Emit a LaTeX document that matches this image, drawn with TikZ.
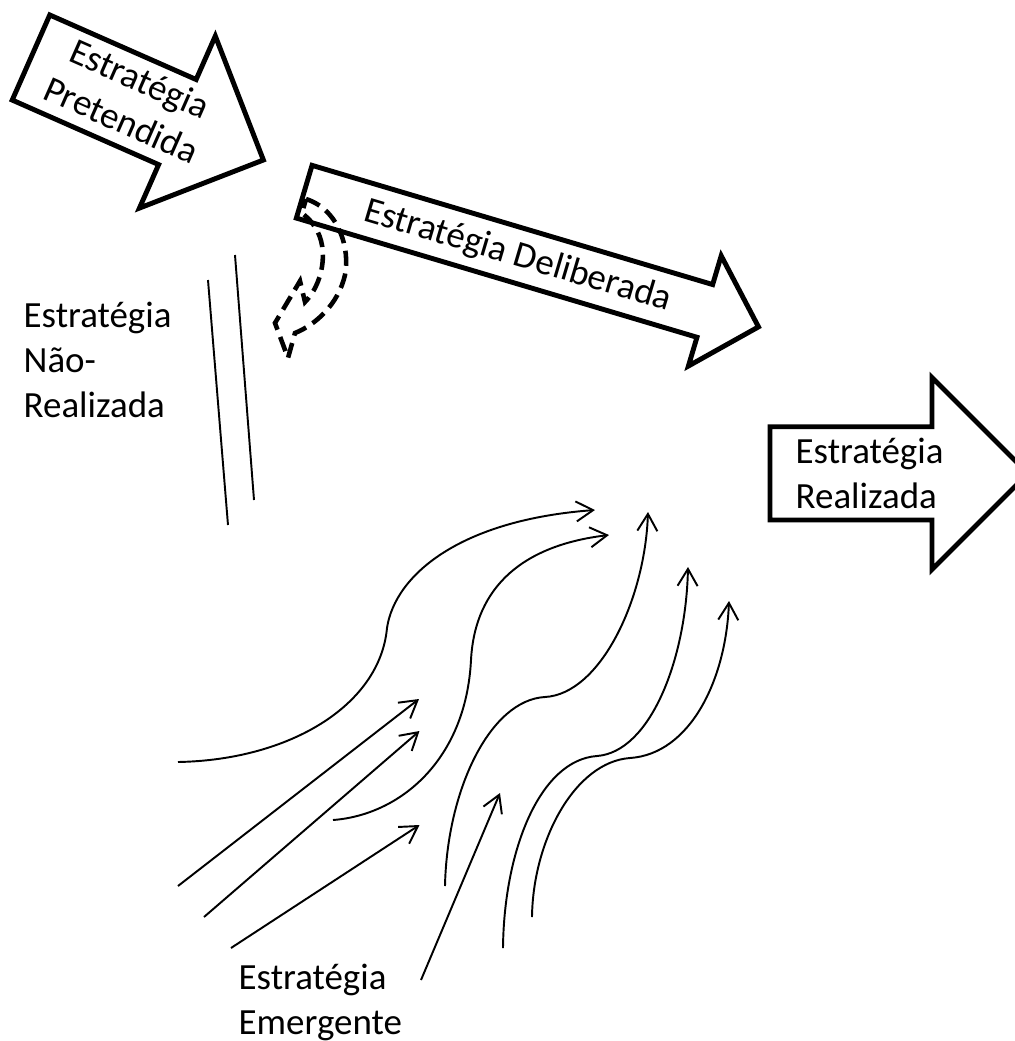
\documentclass[tikz,border=0pt]{standalone}
\usepackage{fontspec}
\setmainfont{Carlito}
\usetikzlibrary{arrows.meta}

\begin{document}
\begin{tikzpicture}[x=0.01cm,y=0.01cm,
  blockarrow/.style={draw=black,line width=1.4pt,line join=miter},
  labeltext/.style={inner sep=0pt,font=\fontsize{10.5}{12.8}\selectfont},
  unrealized/.style={draw=black,line width=1.3pt,dash pattern=on 4.3pt off 2.2pt},
  flow/.style={-{Straight Barb[length=1.7mm,width=2mm]},line width=0.55pt},
  track/.style={line width=0.55pt}]
  \useasboundingbox (0,0) rectangle (1015,-1041);
  \clip (0,0) rectangle (1015,-1041);

  \begin{scope}[shift={(31,-57.5)},rotate=-23.8,transform shape]
    \draw[blockarrow] (0,46.5) -- (160,46.5) -- (160,94) -- (254,0) -- (160,-94) -- (160,-46.5) -- (0,-46.5) -- cycle;
    \node[labeltext,align=center] (pretendida) at (108,2) {Estratégia\\Pretendida};
  \end{scope}

  \begin{scope}[shift={(304.2,-191.7)},rotate=-16.57,transform shape]
    \draw[blockarrow] (0,27.5) -- (418,27.5) -- (418,57.5) -- (474,0) -- (418,-57.5) -- (418,-27.5) -- (0,-27.5) -- cycle;
    \node[labeltext] (deliberada) at (223,-1) {Estratégia Deliberada};
  \end{scope}

  \draw[blockarrow] (770,-426.7) -- (932,-426.7) -- (932,-377.5) -- (1028,-473.5) -- (932,-569.5) -- (932,-520) -- (770,-520) -- cycle;
  \node[labeltext,align=left,anchor=west] (realizada) at (795,-473) {Estratégia\\Realizada};

  \draw[unrealized] (306,-199) .. controls (340,-210) and (350,-250) .. (345,-275)
    .. controls (338,-305) and (315,-325) .. (295,-333) -- (288,-358) -- (275,-323) -- (300,-281) -- (305,-302)
    .. controls (322,-285) and (330,-250) .. (315,-227) .. controls (310,-220) .. (302,-213) -- cycle;

  \node[labeltext,align=left,anchor=north west] (naorealizada) at (23,-301) {Estratégia\\Não-\\Realizada};
  \node[labeltext,align=left,anchor=north west] (emergente) at (238,-963) {Estratégia\\Emergente};

  % nao realizada
  \coordinate (nr1a) at (208,-280); \coordinate (nr1b) at (228,-525);
  \coordinate (nr2a) at (235,-255); \coordinate (nr2b) at (254,-500);
  \draw[track] (nr1a) -- (nr1b);
  \draw[track] (nr2a) -- (nr2b);

  % emergente
  \coordinate (s1a) at (178,-886); \coordinate (s1b) at (419,-699);
  \coordinate (s2a) at (204,-917); \coordinate (s2b) at (419.5,-731);
  \coordinate (s3a) at (231,-948); \coordinate (s3b) at (419.5,-825);
  \coordinate (s4a) at (421,-980); \coordinate (s4b) at (500,-793);
  \draw[flow] (s1a) -- (s1b);
  \draw[flow] (s2a) -- (s2b);
  \draw[flow] (s3a) -- (s3b);
  \draw[flow] (s4a) -- (s4b);

  \coordinate (ca0) at (178,-762); \coordinate (ca1) at (387,-628); \coordinate (ca2) at (595,-510);
  \coordinate (cb0) at (333,-820); \coordinate (cb1) at (471,-660); \coordinate (cb2) at (609,-535);
  \coordinate (cc0) at (445,-886); \coordinate (cc1) at (545,-697); \coordinate (cc2) at (648,-512);
  \coordinate (cd0) at (503,-948); \coordinate (cd1) at (597,-756); \coordinate (cd2) at (688,-567);
  \coordinate (ce0) at (532,-917); \coordinate (ce1) at (630,-758); \coordinate (ce2) at (729,-601);
  \draw[flow] (ca0) .. controls (290,-760) and (380,-705) .. (ca1) .. controls (395,-575) and (460,-520) .. (ca2);
  \draw[flow] (cb0) .. controls (400,-815) and (466,-760) .. (cb1) .. controls (475,-585) and (525,-545) .. (cb2);
  \draw[flow] (cc0) .. controls (447,-790) and (490,-700) .. (cc1) .. controls (600,-694) and (645,-600) .. (cc2);
  \draw[flow] (cd0) .. controls (504,-850) and (540,-760) .. (cd1) .. controls (650,-752) and (686,-660) .. (cd2);
  \draw[flow] (ce0) .. controls (533,-840) and (575,-762) .. (ce1) .. controls (690,-754) and (726,-680) .. (ce2);
\end{tikzpicture}
\end{document}
